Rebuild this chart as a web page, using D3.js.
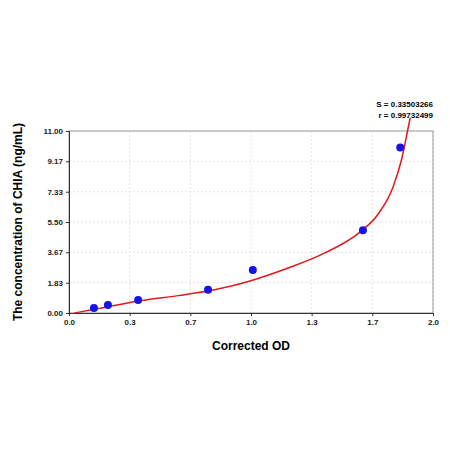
<!DOCTYPE html>
<html><head><meta charset="utf-8">
<script src="https://cdn.jsdelivr.net/npm/d3@7"></script>
<style>body{margin:0;background:#fff}text{font-family:Arial,"Liberation Sans",sans-serif}</style>
</head><body><svg id="c" width="450" height="450"></svg>
<script>
const xTicks=[0,1/3,2/3,1,4/3,5/3,2];
const xTickLabels=["0.0","0.3","0.7","1.0","1.3","1.7","2.0"];
const yTicks=[0,1.83,3.67,5.5,7.33,9.17,11];
const yTickLabels=["0.00","1.83","3.67","5.50","7.33","9.17","11.00"];
const pointX=[0.137,0.214,0.38,0.764,1.01,1.615,1.82];
const pointY=[0.3,0.48,0.78,1.4,2.6,5.0,10.0];
const curveX=[0.03,0.2,0.4,0.6,0.8,1.0,1.2,1.4,1.6,1.7,1.78,1.83,1.86,1.875];
const curveY=[0,0.35,0.75,1.05,1.4,1.95,2.7,3.6,4.9,6.0,7.6,9.4,11.0,11.8];
const stats=["S = 0.33503266","r = 0.99732499"];

const svg=d3.select("#c");
const L=69,R=433,T=131,B=313;
const x=d3.scaleLinear().domain([0,2]).range([L,R]);
const y=d3.scaleLinear().domain([0,11]).range([B,T]);
const g=svg.append("g");
g.selectAll(".gx").data(xTicks).join("line").attr("x1",d=>x(d)).attr("x2",d=>x(d)).attr("y1",T).attr("y2",B).attr("stroke","#e3e3e3").attr("stroke-dasharray","2,2");
g.selectAll(".gy").data(yTicks).join("line").attr("y1",d=>y(d)).attr("y2",d=>y(d)).attr("x1",L).attr("x2",R).attr("stroke","#e3e3e3").attr("stroke-dasharray","2,2");
g.append("rect").attr("x",L).attr("y",T).attr("width",R-L).attr("height",B-T).attr("fill","none").attr("stroke","#999");
const xa=svg.append("g").attr("transform",`translate(0,${B})`).call(d3.axisBottom(x).tickValues(xTicks).tickFormat((d,i)=>xTickLabels[i]).tickSize(3));
const ya=svg.append("g").attr("transform",`translate(${L},0)`).call(d3.axisLeft(y).tickValues(yTicks).tickFormat((d,i)=>yTickLabels[i]).tickSize(3));
[xa,ya].forEach(a=>{a.selectAll("text").attr("font-size",8).attr("font-weight","bold").attr("fill","#222");a.selectAll("path,line").attr("stroke","#333");});
const line=d3.line().x((d,i)=>x(curveX[i])).y((d,i)=>y(curveY[i])).curve(d3.curveMonotoneX);
svg.append("path").attr("d",line(curveX)).attr("fill","none").attr("stroke","#e0191c").attr("stroke-width",1.5);
svg.selectAll(".p").data(pointX).join("circle").attr("cx",d=>x(d)).attr("cy",(d,i)=>y(pointY[i])).attr("r",4).attr("fill","#1414e6");
svg.append("text").attr("x",(L+R)/2).attr("y",350).attr("text-anchor","middle").attr("font-size",12).attr("font-weight","bold").text("Corrected OD");
svg.append("text").attr("transform",`translate(22,${(T+B)/2}) rotate(-90)`).attr("text-anchor","middle").attr("font-size",12).attr("font-weight","bold").text("The concentration of CHIA (ng/mL)");
stats.forEach((s,i)=>svg.append("text").attr("x",R).attr("y",107+i*11).attr("text-anchor","end").attr("font-size",8).attr("font-weight","bold").text(s));
</script></body></html>
